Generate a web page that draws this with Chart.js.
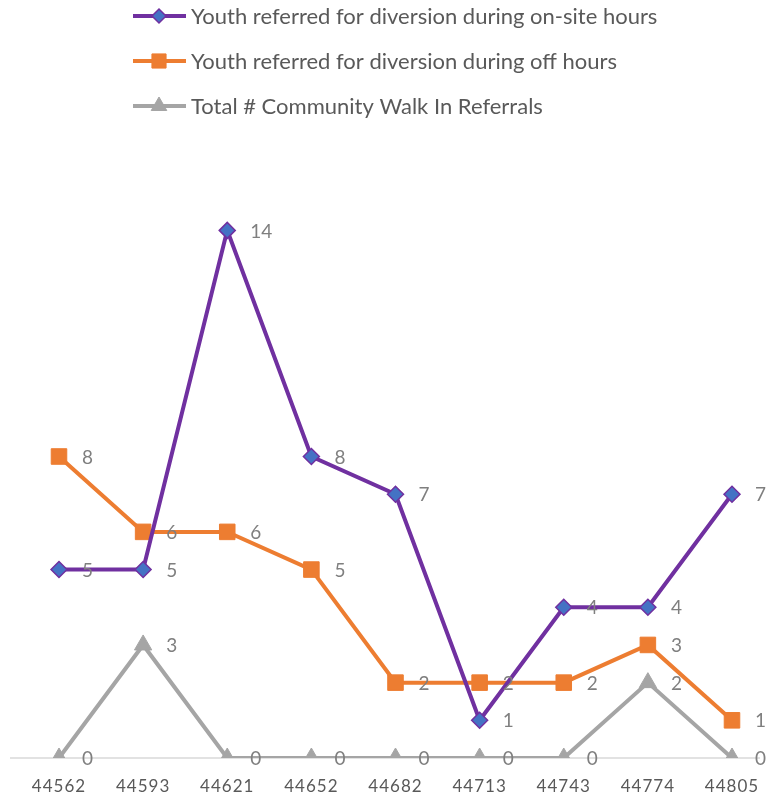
<!DOCTYPE html>
<html>
<head>
<meta charset="utf-8">
<script src="https://cdn.jsdelivr.net/npm/chart.js@4/dist/chart.umd.min.js"></script>
<style>
  html, body { margin:0; padding:0; background:#fff; }
  #wrap { width:768px; height:796px; position:relative; }
</style>
</head>
<body>
<div id="wrap"><canvas id="referralChart"></canvas></div>
<script>
// Referrals line chart

const months = ["44562","44593","44621","44652","44682","44713","44743","44774","44805"];

const onSiteHours = [5,5,14,8,7,1,4,4,7];
const offHours = [8,6,6,5,2,2,2,3,1];
const walkIns = [0,3,0,0,0,0,0,2,0];

const seriesNames = [
  "Youth referred for diversion during on-site hours",
  "Youth referred for diversion during off hours",
  "Total # Community Walk In Referrals"
];

const FONT = "Lato, 'Liberation Sans', sans-serif";


// baseline + point value labels
const labelPlugin = {
  id:"valueLabels",
  beforeDraw(chart){
    chart.ctx.letterSpacing = "1px";
  },
  beforeDatasetsDraw(chart){
    let ctx = chart.ctx;
    ctx.letterSpacing = "0px";
    let y0 = chart.scales.y.getPixelForValue(0);
    ctx.save();
    ctx.strokeStyle = "#d9d9d9";
    ctx.lineWidth = 1.5;
    ctx.beginPath();
    ctx.moveTo(10, y0);
    ctx.lineTo(760, y0);
    ctx.stroke();
    ctx.restore();
  },
  afterDatasetsDraw(chart){
    let ctx = chart.ctx;
    ctx.save();
    ctx.font = "19px " + FONT;
    ctx.fillStyle = "#7f7f7f";
    ctx.textAlign = "left";
    ctx.textBaseline = "middle";
    chart.data.datasets.forEach((ds, i) => {
      let meta = chart.getDatasetMeta(i);
      meta.data.forEach((pt, j) => {
        ctx.fillText(String(ds.data[j]), pt.x + 23, pt.y + 1);
      });
    });
    ctx.restore();
  }
};


// legend stacked at the top
const legendPlugin = {
  id:"stackLegend",
  afterDraw(chart){
    let ctx = chart.ctx;
    chart.data.datasets.forEach((ds, i) => {
      let y = 16 + i * 45;
      ctx.save();
      ctx.strokeStyle = ds.borderColor;
      ctx.lineWidth = 4;
      ctx.beginPath();
      ctx.moveTo(133, y);
      ctx.lineTo(186, y);
      ctx.stroke();
      ctx.fillStyle = ds.pointBackgroundColor;
      ctx.strokeStyle = ds.pointBorderColor;
      ctx.lineWidth = ds.pointBorderWidth;
      Chart.helpers.drawPoint(ctx, {
        pointStyle: ds.pointStyle,
        radius: ds.pointRadius - 1,
        borderWidth: ds.pointBorderWidth
      }, 159, y);
      ctx.restore();
      ctx.save();
      ctx.font = "22px " + FONT;
      ctx.fillStyle = "#595959";
      ctx.textAlign = "left";
      ctx.textBaseline = "middle";
      ctx.fillText(seriesNames[i], 191, y + 1);
      ctx.restore();
    });
  }
};


function drawChart(){

  let canvas = document.getElementById("referralChart");

  new Chart(canvas, {
    type:"line",
    data:{
      labels:months,
      datasets:[
        {
          label:seriesNames[0],
          data:onSiteHours,
          borderColor:"#7030a0",
          borderWidth:4,
          pointStyle:"rectRot",
          pointRadius:8,
          pointBackgroundColor:"#4472c4",
          pointBorderColor:"#7030a0",
          pointBorderWidth:1.5,
          tension:0
        },
        {
          label:seriesNames[1],
          data:offHours,
          borderColor:"#ed7d31",
          borderWidth:4,
          pointStyle:"rect",
          pointRadius:11,
          pointBackgroundColor:"#ed7d31",
          pointBorderColor:"#ed7d31",
          pointBorderWidth:1,
          tension:0
        },
        {
          label:seriesNames[2],
          data:walkIns,
          borderColor:"#a5a5a5",
          borderWidth:4,
          pointStyle:"triangle",
          pointRadius:10,
          pointBackgroundColor:"#a5a5a5",
          pointBorderColor:"#a5a5a5",
          pointBorderWidth:1,
          tension:0
        }
      ]
    },
    options:{
      responsive:false,
      animation:false,
      layout:{ padding:{ top:155, left:59, right:36, bottom:0 } },
      plugins:{
        legend:{ display:false },
        tooltip:{ enabled:false }
      },
      scales:{
        x:{
          offset:false,
          grid:{ display:false },
          border:{ display:false },
          afterFit(scale){ scale.height = 38; },
          ticks:{
            color:"#595959",
            font:{ family:FONT, size:17 },
            padding:10,
            maxRotation:0,
            autoSkip:false
          }
        },
        y:{
          display:false,
          min:0,
          max:16
        }
      }
    },
    plugins:[labelPlugin, legendPlugin]
  });

}

let c = document.getElementById("referralChart");
c.width = 768;
c.height = 796;
drawChart();
</script>
</body>
</html>
